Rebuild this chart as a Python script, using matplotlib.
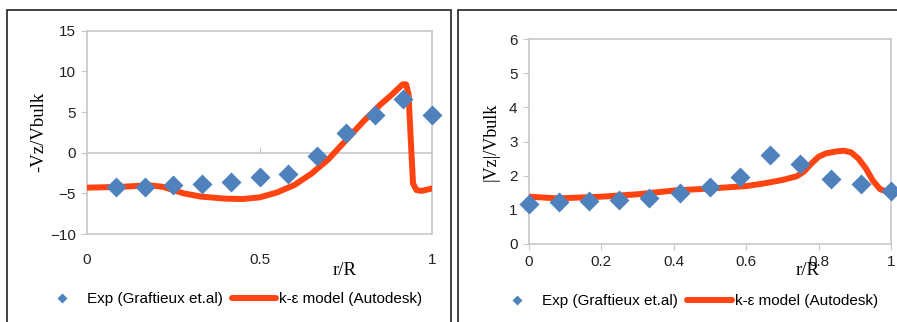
import numpy as np
import matplotlib.pyplot as plt
from matplotlib.patches import Rectangle

# Experimental points (Graftieux et.al)
exp_r_left = [1/12, 2/12, 3/12, 4/12, 5/12, 6/12, 7/12, 8/12, 9/12, 10/12, 11/12, 1.0]
exp_vz_left = [-4.2, -4.2, -4.0, -3.8, -3.6, -3.0, -2.6, -0.4, 2.4, 4.6, 6.6, 4.6]

exp_r_right = [0, 1/12, 2/12, 3/12, 4/12, 5/12, 6/12, 7/12, 8/12, 9/12, 10/12, 11/12, 1.0]
exp_vz_right = [1.16, 1.21, 1.24, 1.28, 1.35, 1.50, 1.67, 1.97, 2.60, 2.33, 1.89, 1.74, 1.56]

# k-eps model (Autodesk)
mod_r_left = [0.0, 0.1, 0.18, 0.22, 0.28, 0.33, 0.4, 0.45, 0.5, 0.55, 0.6, 0.65, 0.7,
              0.75, 0.8, 0.85, 0.88, 0.9, 0.915, 0.925, 0.932, 0.938, 0.945, 0.955, 0.97, 1.0]
mod_vz_left = [-4.3, -4.2, -4.0, -4.2, -5.0, -5.4, -5.65, -5.7, -5.5, -4.9, -4.0, -2.6, -0.8,
               1.5, 3.8, 5.9, 7.0, 7.8, 8.4, 8.4, 7.2, 2.0, -3.8, -4.6, -4.7, -4.4]

mod_r_right = [0.0, 0.08, 0.2, 0.3, 0.4, 0.5, 0.6, 0.65, 0.7, 0.74, 0.76, 0.78, 0.8,
               0.82, 0.85, 0.87, 0.89, 0.91, 0.93, 0.95, 0.97, 1.0]
mod_vz_right = [1.38, 1.33, 1.38, 1.45, 1.56, 1.62, 1.69, 1.77, 1.87, 1.98, 2.12, 2.35, 2.55,
                2.65, 2.71, 2.73, 2.68, 2.50, 2.22, 1.85, 1.60, 1.48]

blue = '#4F81BD'
red = '#FF4411'
grey = '#C8C8C8'

plt.rcParams['font.family'] = ['Liberation Sans', 'DejaVu Sans']

fig = plt.figure(figsize=(8.97, 3.22), dpi=100)

# outer panel frames
fig.add_artist(Rectangle((7/897, -0.1), (451 - 7)/897, 1.1 - 10/322,
                         transform=fig.transFigure, fill=False, ec='#333333', lw=1.3))
fig.add_artist(Rectangle((457.5/897, -0.1), 0.6, 1.1 - 10/322,
                         transform=fig.transFigure, fill=False, ec='#333333', lw=1.3))

ax1 = fig.add_axes([87/897, 1 - 234/322, (432 - 87)/897, (234 - 30.7)/322])
ax2 = fig.add_axes([528.7/897, 1 - 243.7/322, (891 - 528.7)/897, (243.7 - 39.3)/322])

# left panel
ax1.plot(mod_r_left, mod_vz_left, color=red, lw=4.3, solid_capstyle='round',
         solid_joinstyle='round', label='k-ε model (Autodesk)', zorder=3)
ax1.plot(exp_r_left, exp_vz_left, 'D', color=blue, ms=10, mec='none',
         label='Exp (Graftieux et.al)', zorder=4, clip_on=False)
ax1.axhline(0, color=grey, lw=1.2, zorder=1)
ax1.set_xlim(0, 1)
ax1.set_ylim(-10, 15)
ax1.set_yticks([-10, -5, 0, 5, 10, 15])
ax1.set_xticks([0, 0.5, 1])
ax1.set_xticklabels(['0', '0.5', '1'])
ax1.tick_params(axis='x', length=0, pad=14)
sec = ax1.secondary_xaxis(0.4)
sec.set_xticks([0.5])
sec.tick_params(axis='x', direction='in', length=4, color=grey, labelbottom=False)
sec.spines['bottom'].set_visible(False)
ax1.set_ylabel('-Vz/Vbulk', family='Liberation Serif', fontsize=13.5, labelpad=2)
ax1.set_xlabel('r/R', family='Liberation Serif', fontsize=13.5)
ax1.xaxis.set_label_coords(0.748, -0.14)

# right panel
ax2.plot(mod_r_right, mod_vz_right, color=red, lw=4.3, solid_capstyle='round',
         solid_joinstyle='round', label='k-ε model (Autodesk)', zorder=3)
ax2.plot(exp_r_right, exp_vz_right, 'D', color=blue, ms=10, mec='none',
         label='Exp (Graftieux et.al)', zorder=4, clip_on=False)
ax2.set_xlim(0, 1)
ax2.set_ylim(0, 6)
ax2.set_xticks([0, 0.2, 0.4, 0.6, 0.8, 1])
ax2.set_xticklabels(['0', '0.2', '0.4', '0.6', '0.8', '1'])
ax2.tick_params(axis='x', length=4, color=grey, pad=4)
ax2.set_ylabel('|Vz|/Vbulk', family='Liberation Serif', fontsize=13, labelpad=7)
ax2.set_xlabel('r/R', family='Liberation Serif', fontsize=13.5)
ax2.xaxis.set_label_coords(0.77, -0.09)

for ax in (ax1, ax2):
    for s in ax.spines.values():
        s.set_color(grey)
        s.set_linewidth(1.2)
    ax.tick_params(axis='y', length=4, color=grey, labelsize=11, pad=4)
    ax.tick_params(axis='x', labelsize=11)
    ax.tick_params(labelcolor='#222222')

h1, l1 = ax1.get_legend_handles_labels()
fig.legend([h1[1], h1[0]], [l1[1], l1[0]], loc='center', bbox_to_anchor=(231/897, 1 - 299/322),
           ncol=2, frameon=False, fontsize=11, handlelength=2.9, handletextpad=0.2,
           columnspacing=0.6, markerscale=0.5)
h2, l2 = ax2.get_legend_handles_labels()
fig.legend([h2[1], h2[0]], [l2[1], l2[0]], loc='center', bbox_to_anchor=(686.5/897, 1 - 301/322),
           ncol=2, frameon=False, fontsize=11, handlelength=2.9, handletextpad=0.2,
           columnspacing=0.6, markerscale=0.5)

fig.savefig('out.png', dpi=100)
